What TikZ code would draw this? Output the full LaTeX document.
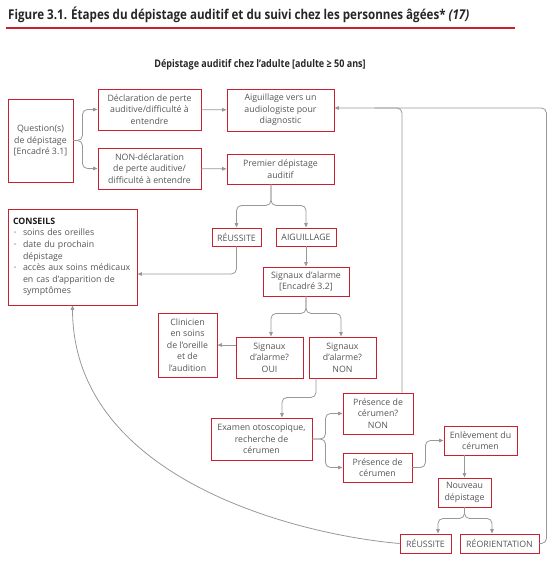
\documentclass[tikz,border=0pt]{standalone}
\usepackage{fontspec,graphicx}
\setmainfont{Open Sans}
\newfontfamily\titlefont[FakeStretch=0.86]{Open Sans}
\usetikzlibrary{arrows.meta}
\definecolor{figred}{RGB}{200,32,46}
\definecolor{figgray}{RGB}{152,152,152}
\definecolor{figtext}{RGB}{85,85,85}
\newcommand\bul{\hspace*{1pt}\makebox[9pt][l]{\raisebox{.25ex}{\scalebox{.6}{\textbullet}}}}
\newcommand\ind{\hspace*{10pt}}

\begin{document}
\begin{tikzpicture}[x=1pt,y=-1pt,box/.style={draw=figred,line width=.9pt,align=center,inner sep=2pt,text=figtext,font=\fontsize{8.8}{11.6}\selectfont},ar/.style={-{Triangle[length=4.5pt,width=3.6pt]},draw=figgray,line width=.8pt,rounded corners=5pt}]
\useasboundingbox (0,0) rectangle (556,561);

\node[anchor=base west,inner sep=0,text=black!85,font=\titlefont\bfseries\fontsize{13.5}{16}\selectfont] (tt) at(8,20) {Figure 3.1. Étapes du dépistage auditif et du suivi chez les personnes âgées* \textit{(17)}};
\draw[figred,line width=1.6pt] (6,28) -- (515,28);
\node[text=black!85,font=\titlefont\bfseries\fontsize{10.5}{12}\selectfont] (st) at(260,65) {Dépistage auditif chez l’adulte [adulte ≥ 50 ans]};

\node[box,minimum width=65,minimum height=83] (q) at(40.5,140.5) {Question(s)\\de dépistage\\{[}Encadré 3.1{]}};
\node[box,minimum width=103,minimum height=41] (b) at(149.5,109.5) {Déclaration de perte\\auditive/difficulté à\\entendre};
\node[box,minimum width=103,minimum height=41] (c) at(149.5,168.5) {NON-déclaration\\de perte auditive/\\difficulté à entendre};
\node[box,minimum width=107,minimum height=42] (d) at(280.5,110) {Aiguillage vers un\\audiologiste pour\\diagnostic};
\node[box,minimum width=107,minimum height=30] (e) at(280.5,169) {Premier dépistage\\auditif};
\node[box,minimum width=49,minimum height=18] (f) at(236.5,237) {RÉUSSITE};
\node[box,minimum width=60,minimum height=18] (g) at(306,237) {AIGUILLAGE};
\node[box,align=left,text width=119,minimum width=129,minimum height=96,inner xsep=5pt] (h) at(72.5,257) {{\color{black!90}\bfseries CONSEILS}\\\mbox{\bul soins des oreilles}\\\mbox{\bul date du prochain}\\\mbox{\ind dépistage}\\\mbox{\bul accès aux soins médicaux}\\\mbox{\ind en cas d’apparition de}\\\mbox{\ind symptômes}};
\node[box,minimum width=86,minimum height=29] (i) at(306,281.5) {Signaux d’alarme\\{[}Encadré 3.2{]}};
\node[box,minimum width=67,minimum height=41] (j) at(269.5,357.5) {Signaux\\d’alarme?\\OUI};
\node[box,minimum width=67,minimum height=41] (k) at(342.5,357.5) {Signaux\\d’alarme?\\NON};
\node[box,minimum width=59,minimum height=64] (l) at(187.5,345) {Clinicien\\en soins\\de l’oreille\\et de\\l’audition};
\node[box,minimum width=101,minimum height=42] (m) at(261.5,439) {Examen otoscopique,\\recherche de\\cérumen};
\node[box,minimum width=70,minimum height=41] (n) at(378,413.5) {Présence de\\cérumen?\\NON};
\node[box,minimum width=69,minimum height=29] (o) at(377.5,467.5) {Présence de\\cérumen};
\node[box,minimum width=73,minimum height=29] (p) at(480.5,440.5) {Enlèvement du\\cérumen};
\node[box,minimum width=53,minimum height=29] (r) at(464.5,492.5) {Nouveau\\dépistage};
\node[box,minimum width=51,minimum height=19] (s) at(425.5,543.5) {RÉUSSITE};
\node[box,minimum width=79,minimum height=19] (t) at(499.5,543.5) {RÉORIENTATION};

\draw[ar] (q.east) -- ++(9,0) |- (b);
\draw[ar] (q.east) -- ++(9,0) |- (c);
\draw[ar] (b) -- (d);
\draw[ar] (c) -- (e);
\draw[ar] ([xshift=-9.5pt]e.south) -- ++(0,21) -| (f);
\draw[ar] ([xshift=-9.5pt]e.south) -- ++(0,21) -| (g);
\draw[ar] (f.south) |- ([yshift=-17pt]h.east);
\draw[ar] (g) -- (i);
\draw[ar] (i.south) -- ++(0,17) -| ([xshift=1.5pt]j.north);
\draw[ar] (i.south) -- ++(0,17) -| ([xshift=-1.5pt]k.north);
\draw[ar] (j.west |- l.east) -- (l.east);
\draw[ar] ([xshift=-26.5pt]k.south) -- ++(0,19) -| ([xshift=20.5pt]m.north);
\draw[ar] (m.east) -- ++(13,0) |- (n);
\draw[ar] (m.east) -- ++(13,0) |- (o);
\draw[ar] (o.east) -- ++(13,0) |- (p);
\draw[ar] (p.south -| r) -- (r);
\draw[ar] (r.south) -- ++(0,11) -| ([xshift=12.5pt]s.north);
\draw[ar] (r.south) -- ++(0,11) -| ([xshift=-7.5pt]t.north);
\draw[ar] (t.east) -- ++(7,0) |- ([yshift=2pt]d.east);
\draw[figgray,line width=.8pt,rounded corners=5pt] ([xshift=24pt]n.north) |- ([xshift=40pt,yshift=2pt]d.east);
\draw[ar] (s.west) .. controls (300,535) and (73,480) .. (h.south);
\end{tikzpicture}
\end{document}
